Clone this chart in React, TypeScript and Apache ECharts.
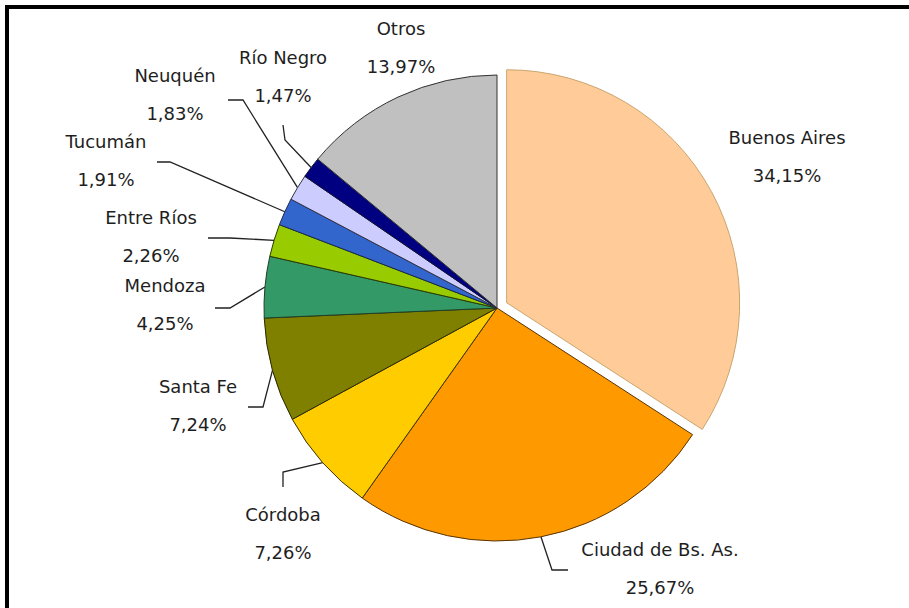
import React, { useEffect, useRef } from "react";
import * as echarts from "echarts";

// ---- data ----
const provinces = [
  "Buenos Aires",
  "Ciudad de Bs. As.",
  "Córdoba",
  "Santa Fe",
  "Mendoza",
  "Entre Ríos",
  "Tucumán",
  "Neuquén",
  "Río Negro",
  "Otros",
];
const shares = [34.15, 25.67, 7.26, 7.24, 4.25, 2.26, 1.91, 1.83, 1.47, 13.97];

// ---- styling / layout ----
const sliceColors = [
  "#FFCC99",
  "#FF9900",
  "#FFCC00",
  "#7F7F00",
  "#339966",
  "#99CC00",
  "#3366CC",
  "#CCCCFF",
  "#000080",
  "#C0C0C0",
];
const sliceBorders = [
  "#C9A56E",
  "#5A3300",
  "#3A3300",
  "#2A2A00",
  "#1F3F2A",
  "#2A3A00",
  "#1A2A50",
  "#333344",
  "#111133",
  "#333333",
];
const explodedIndex = 0;
const explodeDistance = 11;
const pieCentre: [number, number] = [497, 308];
const pieRadius = 233;

// label block centres (name + value)
const labelCentres: [number, number][] = [
  [787, 156],
  [660, 568],
  [283, 533],
  [198, 405],
  [165, 304],
  [151, 236],
  [106, 160],
  [175, 94],
  [283, 76],
  [401, 47],
];
// leader line bend & end points (null = no leader line)
const leaderPoints: ([number, number][] | null)[] = [
  null,
  [
    [552, 570],
    [568, 570],
  ],
  [
    [283, 472],
    [283, 487],
  ],
  [
    [263, 407],
    [248, 407],
  ],
  [
    [230, 308],
    [215, 308],
  ],
  [
    [230, 238],
    [208, 238],
  ],
  [
    [170, 162],
    [157, 162],
  ],
  [
    [243, 100],
    [228, 100],
  ],
  [
    [285, 140],
    [283, 125],
  ],
  null,
];

const fmt = (v: number) => v.toFixed(2).replace(".", ",") + "%";

export default function App() {
  const ref = useRef<HTMLDivElement>(null);

  useEffect(() => {
    document.body.style.margin = "0";
    if (!ref.current) return;
    const chart = echarts.init(ref.current, undefined, { renderer: "svg" });

    // direction of the exploded slice (mid-angle, clockwise from 12 o'clock)
    const total = shares.reduce((a, b) => a + b, 0);
    const before = shares.slice(0, explodedIndex).reduce((a, b) => a + b, 0);
    const mid = ((before + shares[explodedIndex] / 2) / total) * Math.PI * 2;
    const explodedCentre = [
      pieCentre[0] + Math.sin(mid) * explodeDistance,
      pieCentre[1] - Math.cos(mid) * explodeDistance,
    ];

    const hidden = {
      itemStyle: { color: "rgba(0,0,0,0)", borderWidth: 0 },
      label: { show: false },
      labelLine: { show: false },
    };

    const baseData = provinces.map((name, i) =>
      i === explodedIndex
        ? { name, value: shares[i], ...hidden }
        : {
            name,
            value: shares[i],
            itemStyle: {
              color: sliceColors[i],
              borderColor: sliceBorders[i],
              borderWidth: 1,
            },
            labelLine: { show: leaderPoints[i] !== null },
          }
    );
    const explodedData = provinces.map((name, i) =>
      i === explodedIndex
        ? {
            name,
            value: shares[i],
            itemStyle: {
              color: sliceColors[i],
              borderColor: sliceBorders[i],
              borderWidth: 1,
            },
            labelLine: { show: leaderPoints[i] !== null },
          }
        : { name, value: shares[i], ...hidden }
    );

    const common = {
      type: "pie",
      radius: pieRadius,
      startAngle: 90,
      clockwise: true,
      avoidLabelOverlap: false,
      emphasis: { disabled: true },
      silent: true,
      label: {
        show: true,
        position: "outside",
        formatter: (p: any) => `${p.name}\n${fmt(p.value)}`,
        fontFamily: "DejaVu Sans",
        fontSize: 18,
        lineHeight: 38,
        color: "#1e1e1e",
        align: "center",
      },
      labelLine: {
        show: true,
        length: 10,
        length2: 10,
        lineStyle: { color: "#222", width: 1.3 },
      },
      labelLayout: (params: any) => {
        const i = params.dataIndex;
        const c = labelCentres[i];
        const res: any = {
          x: c[0],
          y: c[1],
          align: "center",
          verticalAlign: "middle",
        };
        const lp = leaderPoints[i];
        if (lp && params.labelLinePoints) {
          res.labelLinePoints = [params.labelLinePoints[0], lp[0], lp[1]];
        }
        return res;
      },
    };

    chart.setOption({
      animation: false,
      backgroundColor: "#ffffff",
      graphic: [
        {
          type: "line",
          shape: { x1: 5, y1: 7, x2: 909, y2: 7 },
          style: { stroke: "#000", lineWidth: 4 },
        },
        {
          type: "line",
          shape: { x1: 7, y1: 5, x2: 7, y2: 608 },
          style: { stroke: "#000", lineWidth: 4 },
        },
      ],
      series: [
        { ...common, center: pieCentre, data: baseData },
        { ...common, center: explodedCentre, data: explodedData },
      ],
    });

    return () => chart.dispose();
  }, []);

  return <div ref={ref} style={{ width: 909, height: 608 }} />;
}
